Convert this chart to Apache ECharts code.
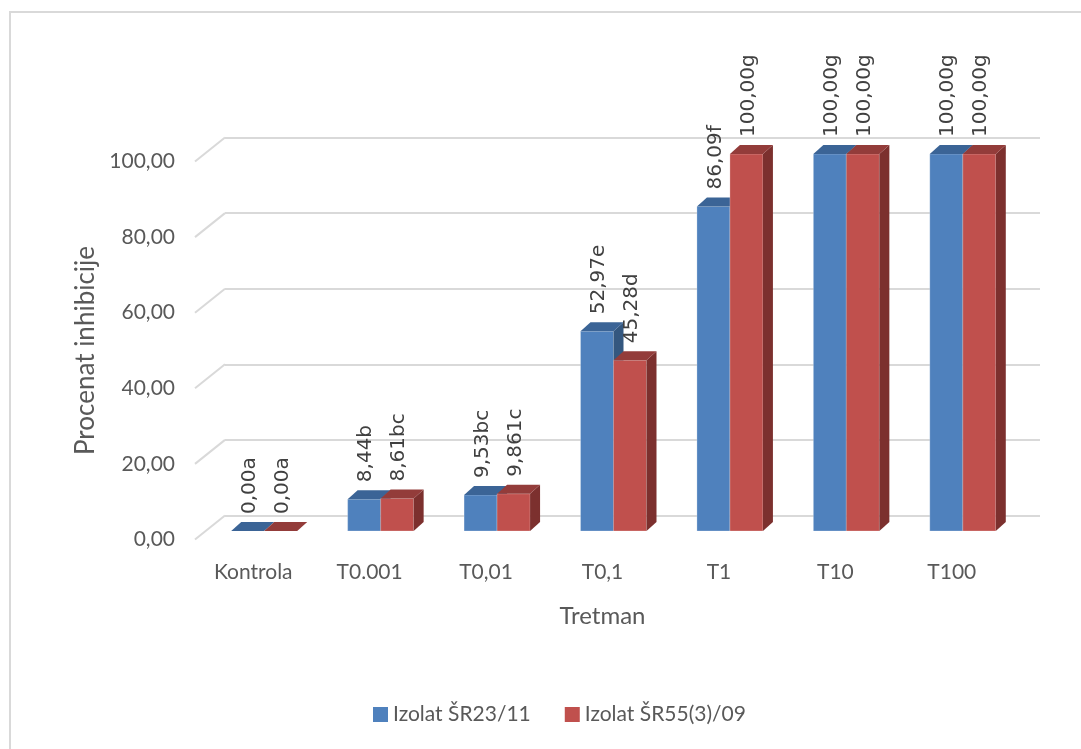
<!DOCTYPE html>
<html>
<head>
<meta charset="utf-8">
<script src="https://cdn.jsdelivr.net/npm/echarts@6/dist/echarts.min.js"></script>
<style>
html,body{margin:0;padding:0;background:#fff;}
#c{width:1081px;height:749px;}
</style>
</head>
<body>
<div id="c"></div>
<script>
// ---- data ----
const categories = ['Kontrola', 'T0.001', 'T0,01', 'T0,1', 'T1', 'T10', 'T100'];
const seriesNames = ['Izolat ŠR23/11', 'Izolat ŠR55(3)/09'];
const valuesA = [0, 8.44, 9.53, 52.97, 86.09, 100, 100];
const valuesB = [0, 8.61, 9.86, 45.28, 100, 100, 100];
const labelsA = ['0,00a', '8,44b', '9,53bc', '52,97e', '86,09f', '100,00g', '100,00g'];
const labelsB = ['0,00a', '8,61bc', '9,861c', '45,28d', '100,00g', '100,00g', '100,00g'];
const yTicks = [0, 20, 40, 60, 80, 100];
const yTitle = 'Procenat inhibicije';
const xTitle = 'Tretman';

// ---- styling ----
const colA = {front: '#4F81BD', top: '#3B6496', side: '#34577F'};
const colB = {front: '#C0504D', top: '#933C3A', side: '#7C302E'};
const BAR_W = 33, DEPTH_X = 10, DEPTH_Y = -9;
const grey = '#595959';

function makeBarRender(side, col, labels) {
  return function (params, api) {
    const ci = api.value(0);
    const base = api.coord([ci, 0]);
    const top = api.coord([ci, api.value(1)]);
    const cx = base[0];
    const x0 = side === 0 ? cx - BAR_W : cx;
    const x1 = x0 + BAR_W;
    const yb = base[1], yt = top[1];
    return {
      type: 'group',
      children: [
        {type: 'rect', shape: {x: x0, y: yt, width: BAR_W, height: yb - yt},
          style: {fill: col.front, stroke: 'rgba(255,255,255,0.25)', lineWidth: 1}},
        {type: 'polygon', shape: {points: [[x1, yb], [x1 + DEPTH_X, yb + DEPTH_Y], [x1 + DEPTH_X, yt + DEPTH_Y], [x1, yt]]},
          style: {fill: col.side}},
        {type: 'polygon', shape: {points: [[x0, yt], [x0 + DEPTH_X, yt + DEPTH_Y], [x1 + DEPTH_X, yt + DEPTH_Y], [x1, yt]]},
          style: {fill: col.top}},
        {type: 'text', x: x0 + BAR_W / 2 + 2, y: yt + DEPTH_Y - 8, rotation: Math.PI / 2,
          style: {text: labels[ci], fontFamily: 'DejaVu Sans', fontSize: 20, fill: '#404040',
            align: 'left', verticalAlign: 'middle'}}
      ]
    };
  };
}

const BACK = {left: 225, right: 41, top: 137.5, bottom: 233.5};
const FRONT = {left: 195, right: 71, top: 161.5, bottom: 209.5};
const BARS = {left: 206, right: 60, top: 154, bottom: 218};

const chart = echarts.init(document.getElementById('c'), null, {renderer: 'canvas'});
const valAxisBase = {type: 'value', min: 0, max: 100, interval: 20};
chart.setOption({
  backgroundColor: '#ffffff',
  animation: false,
  graphic: [{type: 'rect', shape: {x: 10, y: 12, width: 1200, height: 900},
    style: {fill: 'none', stroke: '#d9d9d9', lineWidth: 2}, silent: true}],
  legend: {
    data: seriesNames, left: 368, top: 699, itemWidth: 15, itemHeight: 15, itemGap: 34,
    icon: 'rect',
    textStyle: {fontFamily: 'Lato', fontSize: 21, color: grey}
  },
  grid: [
    Object.assign({}, BACK),
    Object.assign({}, FRONT),
    Object.assign({}, BARS)
  ],
  xAxis: [
    {gridIndex: 0, type: 'category', data: categories, show: false},
    {gridIndex: 1, type: 'category', data: categories,
      axisLine: {show: false}, axisTick: {show: false},
      axisLabel: {fontFamily: 'Lato', fontSize: 21, color: grey, margin: 22},
      name: xTitle, nameLocation: 'middle', nameGap: 65,
      nameTextStyle: {fontFamily: 'Lato', fontSize: 24, color: grey}},
    {gridIndex: 2, type: 'category', data: categories, show: false}
  ],
  yAxis: [
    Object.assign({gridIndex: 0, axisLine: {show: false}, axisTick: {show: false}, axisLabel: {show: false},
      splitLine: {lineStyle: {color: '#d9d9d9', width: 2}}}, valAxisBase),
    Object.assign({gridIndex: 1, axisLine: {show: false}, axisTick: {show: false}, splitLine: {show: false},
      axisLabel: {fontFamily: 'Lato', fontSize: 21, color: grey, margin: 20,
        formatter: v => v.toFixed(2).replace('.', ',')},
      name: yTitle, nameLocation: 'middle', nameGap: 94, nameRotate: 90,
      nameTextStyle: {fontFamily: 'Lato', fontSize: 26, color: grey}}, valAxisBase),
    Object.assign({gridIndex: 2, show: false, splitLine: {show: false}}, valAxisBase)
  ],
  series: [
    {
      type: 'custom', name: 'slant', xAxisIndex: 0, yAxisIndex: 0, silent: true,
      data: yTicks.map(v => [0, v]),
      renderItem: function (params, api) {
        const p = api.coord([0, api.value(1)]);
        const left = params.coordSys.x;
        return {type: 'line', shape: {x1: left, y1: p[1], x2: left - 30, y2: p[1] + 24},
          style: {stroke: '#d9d9d9', lineWidth: 2}};
      },
      z: 1
    },
    {
      type: 'custom', name: seriesNames[0], xAxisIndex: 2, yAxisIndex: 2,
      itemStyle: {color: colA.front},
      data: valuesA.map((v, i) => [i, v]),
      renderItem: makeBarRender(0, colA, labelsA), z: 3
    },
    {
      type: 'custom', name: seriesNames[1], xAxisIndex: 2, yAxisIndex: 2,
      itemStyle: {color: colB.front},
      data: valuesB.map((v, i) => [i, v]),
      renderItem: makeBarRender(1, colB, labelsB), z: 4
    }
  ]
});
</script>
</body>
</html>
